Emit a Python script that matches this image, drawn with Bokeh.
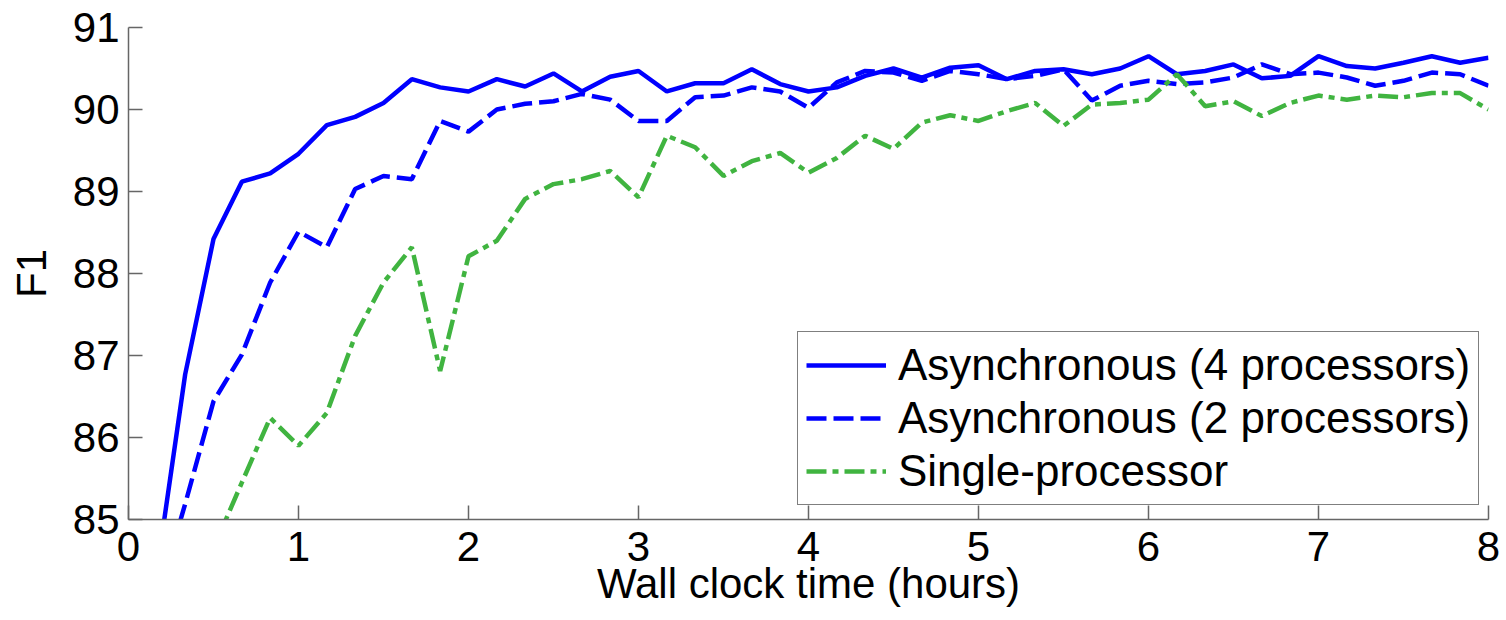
from bokeh.plotting import figure
from bokeh.models import Legend, LegendItem, FixedTicker
from bokeh.embed import file_html
from bokeh.resources import INLINE

# wall clock time of each evaluation, in minutes
minutes = [10, 20, 30, 40, 50, 60, 70, 80, 90, 100, 110, 120,
           130, 140, 150, 160, 170, 180, 190, 200, 210, 220, 230, 240,
           250, 260, 270, 280, 290, 300, 310, 320, 330, 340, 350, 360,
           370, 380, 390, 400, 410, 420, 430, 440, 450, 460, 470, 480]

async4_f1 = [84.37, 86.77, 88.42, 89.12, 89.22, 89.46, 89.81, 89.91, 90.08, 90.37, 90.27, 90.22,
             90.37, 90.28, 90.44, 90.22, 90.40, 90.47, 90.22, 90.32, 90.32, 90.49, 90.31, 90.22,
             90.27, 90.41, 90.50, 90.39, 90.51, 90.54, 90.37, 90.47, 90.49, 90.43, 90.50, 90.65,
             90.43, 90.47, 90.55, 90.38, 90.41, 90.65, 90.53, 90.50, 90.57, 90.65, 90.57, 90.63]

async2_f1 = [84.00, 85.19, 86.44, 87.01, 87.89, 88.51, 88.32, 89.03, 89.19, 89.15, 89.86, 89.73,
             90.00, 90.07, 90.10, 90.19, 90.12, 89.86, 89.86, 90.15, 90.17, 90.27, 90.22, 90.02,
             90.33, 90.47, 90.45, 90.35, 90.47, 90.43, 90.37, 90.41, 90.49, 90.11, 90.29, 90.35,
             90.31, 90.33, 90.39, 90.55, 90.43, 90.45, 90.39, 90.29, 90.35, 90.45, 90.43, 90.29]

single_f1 = [83.50, 83.90, 84.65, 85.45, 86.24, 85.90, 86.30, 87.24, 87.89, 88.32, 86.81, 88.21,
             88.40, 88.91, 89.09, 89.15, 89.25, 88.93, 89.68, 89.54, 89.19, 89.37, 89.47, 89.23,
             89.41, 89.68, 89.52, 89.84, 89.93, 89.86, 89.98, 90.08, 89.80, 90.06, 90.08, 90.12,
             90.43, 90.04, 90.10, 89.92, 90.08, 90.17, 90.12, 90.17, 90.15, 90.20, 90.20, 90.00]

x_ticks = [0, 1, 2, 3, 4, 5, 6, 7, 8]
y_ticks = [85, 86, 87, 88, 89, 90, 91]
series_labels = ["Asynchronous (4 processors)", "Asynchronous (2 processors)", "Single-processor"]

hours = [m / 60 for m in minutes]

FONT = "Liberation Sans"
BLUE = "#0000FF"
GREEN = "#40B440"
LW = 4.5

p = figure(width=1506, height=620, x_range=(0, 8), y_range=(85, 91),
           output_backend="svg", toolbar_location=None,
           min_border_left=128, min_border_right=18, min_border_top=27, min_border_bottom=101)
p.outline_line_color = None
p.xgrid.visible = False
p.ygrid.visible = False
p.background_fill_color = "white"
p.border_fill_color = "white"

r1 = p.line(hours, async4_f1, line_color=BLUE, line_width=LW)
r2 = p.line(hours, async2_f1, line_color=BLUE, line_width=LW, line_dash="20 7")
r3 = p.line(hours, single_f1, line_color=GREEN, line_width=LW, line_dash="20 6 6 6")

for ax in (p.xaxis[0], p.yaxis[0]):
    ax.axis_line_color = "#666666"
    ax.axis_line_width = 1.5
    ax.major_tick_line_color = "#666666"
    ax.major_tick_line_width = 1.5
    ax.major_tick_in = 14
    ax.major_tick_out = 0
    ax.minor_tick_line_color = None
    ax.major_label_text_font = FONT
    ax.major_label_text_font_size = "42px"
    ax.major_label_text_color = "black"
    ax.axis_label_text_font = FONT
    ax.axis_label_text_font_size = "42px"
    ax.axis_label_text_font_style = "normal"
    ax.axis_label_text_color = "black"

p.xaxis.ticker = FixedTicker(ticks=x_ticks)
p.yaxis.ticker = FixedTicker(ticks=y_ticks)
p.xaxis.axis_label = "Wall clock time (hours)"
p.yaxis.axis_label = "F1"
p.xaxis.major_label_standoff = 12
p.xaxis.axis_label_standoff = -4
p.yaxis.major_label_standoff = 9
p.yaxis.axis_label_standoff = 15

legend = Legend(items=[LegendItem(label=series_labels[0], renderers=[r1]),
                       LegendItem(label=series_labels[1], renderers=[r2]),
                       LegendItem(label=series_labels[2], renderers=[r3])],
                location=(669, 14))
legend.label_text_font = FONT
legend.label_text_font_size = "44px"
legend.label_text_color = "black"
legend.glyph_width = 80
legend.glyph_height = 40
legend.label_standoff = 12
legend.padding = 8
legend.spacing = 3
legend.margin = 0
legend.border_line_color = "black"
legend.border_line_width = 1.5
legend.background_fill_color = "white"
legend.background_fill_alpha = 1.0
p.add_layout(legend)

open("out.html", "w").write(file_html(p, INLINE))
